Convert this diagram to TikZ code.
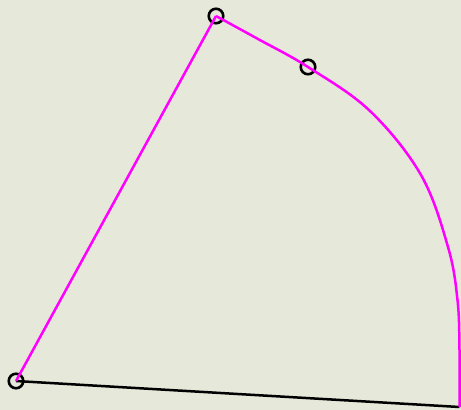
\documentclass[tikz,border=0pt]{standalone}
\definecolor{bgc}{HTML}{E6E8DA}
\definecolor{mag}{HTML}{FF00FF}
\tikzset{
  pt/.style={circle, draw=black, line width=2.6pt, inner sep=0pt, minimum size=14.5pt, fill=none},
  magline/.style={draw=mag, line width=2.5pt, line join=round},
  baseline/.style={draw=black, line width=2.5pt}
}
\begin{document}
\begin{tikzpicture}[x=1pt, y=-1pt]
\fill[bgc] (0,0) rectangle (461,410);
\useasboundingbox (0,0) rectangle (461,410);
\node[pt] (a) at (16,381) {};
\node[pt] (b) at (216,16) {};
\node[pt] (c) at (308,67) {};
\coordinate (e) at (459.5,407);
\draw[baseline] (a.center) -- (e);
\draw[magline] (a.center) -- (b.center);
\draw[magline] plot[smooth, tension=0.6] coordinates {(b.center) (258,39) (c.center) (370,111) (421,175) (448,247) (457.5,300) (459.5,350) (e)};
\end{tikzpicture}
\end{document}
